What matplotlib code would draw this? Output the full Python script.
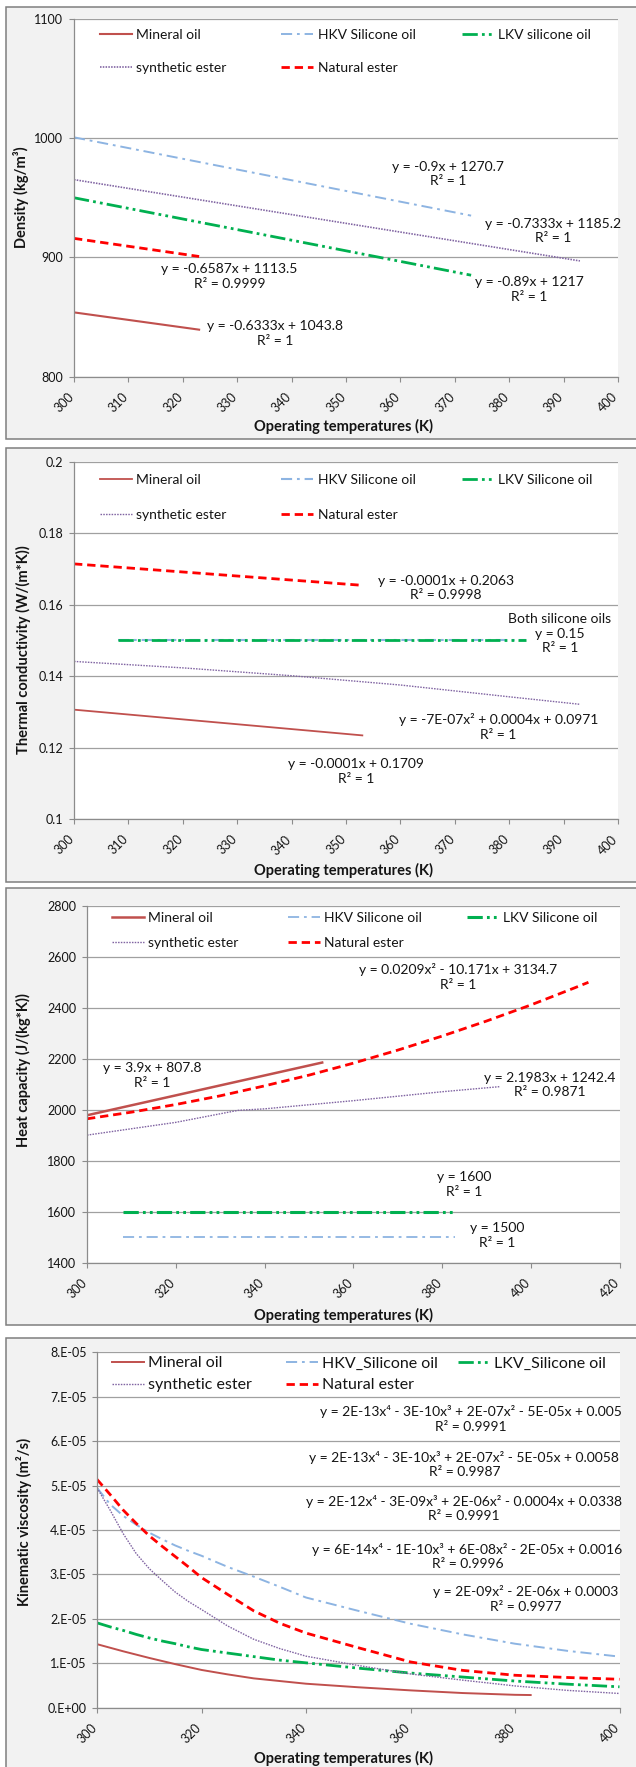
import matplotlib
matplotlib.use('Agg')
import matplotlib.pyplot as plt
from matplotlib.patches import Rectangle
from matplotlib.legend import Legend
from matplotlib.transforms import ScaledTranslation

plt.rcParams['font.family'] = ['Lato', 'DejaVu Sans']
plt.rcParams['lines.scale_dashes'] = False

W, H, DPI = 636, 1767, 100

# ---------------- data ----------------
# Panel 1: density (kg/m3)
dens_mineral_T = [300, 323]
dens_mineral = [853.8, 839.3]
dens_hkv_T = [300, 373]
dens_hkv = [1000.7, 935.0]
dens_lkv_T = [300, 373]
dens_lkv = [950.0, 885.0]
dens_syn_T = [300, 393]
dens_syn = [965.2, 897.0]
dens_nat_T = [300, 323]
dens_nat = [915.9, 900.7]

# Panel 2: thermal conductivity (W/(m*K))
tc_mineral_T = [300, 353]
tc_mineral = [0.1306, 0.1234]
tc_nat_T = [300, 353]
tc_nat = [0.1714, 0.1654]
tc_sil_T = [308, 383]
tc_hkv = [0.15, 0.15]
tc_lkv = [0.15, 0.15]
tc_syn_T = [300, 320, 340, 360, 380, 393]
tc_syn = [0.1441, 0.1423, 0.1401, 0.1375, 0.1342, 0.1321]

# Panel 3: heat capacity (J/(kg*K))
cp_mineral_T = [300, 353]
cp_mineral = [1977.8, 2184.5]
cp_nat_T = [300, 310, 320, 330, 340, 350, 360, 370, 380, 390, 400, 410, 413]
cp_nat = [1964, 1990, 2020, 2054, 2093, 2135, 2182, 2233, 2288, 2347, 2410, 2478, 2499]
cp_syn_T = [300, 310, 320, 334, 340, 360, 380, 393]
cp_syn = [1900, 1925, 1950, 1997, 2003, 2035, 2070, 2090]
cp_sil_T = [308, 383]
cp_hkv = [1500, 1500]
cp_lkv = [1600, 1600]

# Panel 4: kinematic viscosity (m2/s)
kv_mineral_T = [300, 305, 310, 315, 320, 325, 330, 335, 340, 350, 360, 370, 380, 383]
kv_mineral = [1.43e-5, 1.27e-5, 1.12e-5, 0.98e-5, 0.85e-5, 0.75e-5, 0.66e-5, 0.60e-5, 0.54e-5,
              0.46e-5, 0.39e-5, 0.33e-5, 0.29e-5, 0.285e-5]
kv_T = [300, 302.5, 305, 307.5, 310, 312.5, 315, 317.5, 320, 325, 330, 335, 340, 350, 360, 370, 380, 390, 400]
kv_hkv = [4.95e-5, 4.58e-5, 4.32e-5, 4.12e-5, 3.94e-5, 3.79e-5, 3.65e-5, 3.53e-5, 3.42e-5, 3.17e-5,
          2.95e-5, 2.72e-5, 2.48e-5, 2.18e-5, 1.89e-5, 1.65e-5, 1.44e-5, 1.28e-5, 1.15e-5]
kv_lkv = [1.91e-5, 1.82e-5, 1.74e-5, 1.65e-5, 1.57e-5, 1.50e-5, 1.44e-5, 1.37e-5, 1.31e-5, 1.23e-5,
          1.15e-5, 1.07e-5, 1.01e-5, 0.89e-5, 0.78e-5, 0.69e-5, 0.60e-5, 0.53e-5, 0.47e-5]
kv_syn = [4.95e-5, 4.45e-5, 3.92e-5, 3.47e-5, 3.13e-5, 2.86e-5, 2.60e-5, 2.39e-5, 2.21e-5, 1.84e-5,
          1.54e-5, 1.33e-5, 1.16e-5, 0.95e-5, 0.76e-5, 0.62e-5, 0.49e-5, 0.39e-5, 0.32e-5]
kv_nat = [5.14e-5, 4.80e-5, 4.45e-5, 4.15e-5, 3.87e-5, 3.63e-5, 3.40e-5, 3.17e-5, 2.93e-5, 2.55e-5,
          2.18e-5, 1.90e-5, 1.68e-5, 1.35e-5, 1.03e-5, 0.84e-5, 0.73e-5, 0.68e-5, 0.64e-5]

# labels
labels_1 = ['Mineral oil', 'HKV Silicone oil', 'LKV silicone oil', 'synthetic ester', 'Natural ester']
labels_2 = ['Mineral oil', 'HKV Silicone oil', 'LKV Silicone oil', 'synthetic ester', 'Natural ester']
labels_4 = ['Mineral oil', 'HKV_Silicone oil', 'LKV_Silicone oil', 'synthetic ester', 'Natural ester']

x_ticks_10 = [300, 310, 320, 330, 340, 350, 360, 370, 380, 390, 400]
x_ticks_20a = [300, 320, 340, 360, 380, 400, 420]
x_ticks_20b = [300, 320, 340, 360, 380, 400]
p1_yticks = [800, 900, 1000, 1100]
p2_yticks = [0.1, 0.12, 0.14, 0.16, 0.18, 0.2]
p2_ylabels = ['0.1', '0.12', '0.14', '0.16', '0.18', '0.2']
p3_yticks = [1400, 1600, 1800, 2000, 2200, 2400, 2600, 2800]
p4_yticks = [0, 1e-5, 2e-5, 3e-5, 4e-5, 5e-5, 6e-5, 7e-5, 8e-5]
p4_ylabels = ['0.E+00', '1.E-05', '2.E-05', '3.E-05', '4.E-05', '5.E-05', '6.E-05', '7.E-05', '8.E-05']

p1_notes = ['y = -0.9x + 1270.7\nR² = 1', 'y = -0.7333x + 1185.2\nR² = 1',
            'y = -0.6587x + 1113.5\nR² = 0.9999', 'y = -0.89x + 1217\nR² = 1',
            'y = -0.6333x + 1043.8\nR² = 1']
p1_note_xy = [(368.8, 970), (388, 922), (328.6, 884), (383.7, 873), (337, 836)]
p2_notes = ['y = -0.0001x + 0.2063\nR² = 0.9998', 'Both silicone oils\ny = 0.15\nR² = 1',
            'y = -7E-07x² + 0.0004x + 0.0971\nR² = 1', 'y = -0.0001x + 0.1709\nR² = 1']
p2_note_xy = [(368.3, 0.1646), (389.3, 0.1518), (378, 0.1258), (351.9, 0.1133)]
p3_notes = ['y = 0.0209x² - 10.171x + 3134.7\nR² = 1', 'y = 3.9x + 807.8\nR² = 1',
            'y = 2.1983x + 1242.4\nR² = 0.9871', 'y = 1600\nR² = 1', 'y = 1500\nR² = 1']
p3_note_xy = [(383.7, 2519), (314.7, 2134), (404.3, 2097), (385.1, 1707), (392.4, 1507)]
p4_notes = ['y = 2E-13x⁴ - 3E-10x³ + 2E-07x² - 5E-05x + 0.005\nR² = 0.9991',
            'y = 2E-13x⁴ - 3E-10x³ + 2E-07x² - 5E-05x + 0.0058\nR² = 0.9987',
            'y = 2E-12x⁴ - 3E-09x³ + 2E-06x² - 0.0004x + 0.0338\nR² = 0.9991',
            'y = 6E-14x⁴ - 1E-10x³ + 6E-08x² - 2E-05x + 0.0016\nR² = 0.9996',
            'y = 2E-09x² - 2E-06x + 0.0003\nR² = 0.9977']
p4_note_xy = [(371.5, 6.50e-5), (370.3, 5.47e-5), (370.2, 4.48e-5), (370.9, 3.40e-5), (382.1, 2.45e-5)]

# ---------------- styles ----------------
C_MIN, C_HKV, C_LKV, C_SYN, C_NAT = '#C0504D', '#8DB4E2', '#00B050', '#8064A2', '#FF0000'
LS_HKV = (0, (8, 3.5, 2, 3.5))
LS_LKV = (0, (11, 3, 2, 3, 2, 3))
LS_SYN = (0, (1.1, 0.9))
LS_NAT = (0, (6, 3.5))
TXT = '#141414'

fig = plt.figure(figsize=(W / DPI, H / DPI), dpi=DPI)
fig.patch.set_facecolor('white')


def panel_box(t, b, l=6, r=637):
    fig.add_artist(Rectangle((l / W, 1 - b / H), (r - l) / W, (b - t) / H,
                             transform=fig.transFigure, facecolor='#F2F2F2',
                             edgecolor='#7F7F7F', lw=1.1, zorder=-5))


def make_axes(box):
    l, r, t, b = box
    return fig.add_axes([l / W, 1 - b / H, (r - l) / W, (b - t) / H])


def style_axes(ax, xlim, xticks, ylim, yticks, ylabels=None):
    ax.set_xlim(*xlim)
    ax.set_ylim(*ylim)
    ax.set_facecolor('white')
    for s in ('top', 'right'):
        ax.spines[s].set_visible(False)
    for s in ('left', 'bottom'):
        ax.spines[s].set_color('#8C8C8C')
        ax.spines[s].set_linewidth(0.9)
    ax.yaxis.grid(True, color='#A0A0A0', lw=0.9)
    ax.set_axisbelow(True)
    ax.tick_params(axis='both', direction='out', color='#8C8C8C', width=0.8,
                   labelsize=9, labelcolor=TXT)
    ax.tick_params(axis='x', length=3.6, pad=6.5)
    ax.tick_params(axis='y', length=3.6, pad=4)
    ax.set_yticks(yticks)
    if ylabels is not None:
        ax.set_yticklabels(ylabels)
    ax.set_xticks(xticks, labels=[str(v) for v in xticks], rotation=45, ha='right',
                  rotation_mode='default')
    off = ScaledTranslation(2 / DPI, 0, fig.dpi_scale_trans)
    for lab in ax.xaxis.get_majorticklabels():
        lab.set_transform(lab.get_transform() + off)


def add_legend(ax, box, handles, labels, cols, rows, fs):
    l, r, t, b = box
    slots = [(0, 0), (1, 0), (2, 0), (0, 1), (1, 1)]
    fs_px = fs * DPI / 72
    for hnd, lab, (c, rw) in zip(handles, labels, slots):
        xf = (cols[c] - l) / (r - l)
        yf = 1 - (rows[rw] - t) / (b - t)
        leg = Legend(ax, [hnd], [lab], loc='center left', bbox_to_anchor=(xf, yf),
                     bbox_transform=ax.transAxes, borderaxespad=0, borderpad=0,
                     frameon=False, fontsize=fs, handlelength=32 / fs_px,
                     handletextpad=4.5 / fs_px, labelcolor=TXT)
        ax.add_artist(leg)


def notes(ax, texts, xy, fs=10, ls=1.25):
    for s, (x, y) in zip(texts, xy):
        ax.text(x, y, s, ha='center', va='center', multialignment='center',
                fontsize=fs, linespacing=ls, color=TXT)


def titles(ylab, ylab_xy, xlab_y):
    fig.text(ylab_xy[0] / W, 1 - ylab_xy[1] / H, ylab, rotation=90, ha='center', va='center',
             fontsize=10.5, fontweight='bold', color=TXT)
    fig.text(343 / W, 1 - xlab_y / H, 'Operating temperatures (K)', ha='center', va='center',
             fontsize=10.5, fontweight='bold', color=TXT)


# ---------------- Panel 1 ----------------
panel_box(7, 439)
box1 = (74, 618, 19, 376.5)
ax1 = make_axes(box1)
h = []
h += ax1.plot(dens_mineral_T, dens_mineral, color=C_MIN, ls='-', lw=1.5)
h += ax1.plot(dens_hkv_T, dens_hkv, color=C_HKV, ls=LS_HKV, lw=1.4)
h += ax1.plot(dens_lkv_T, dens_lkv, color=C_LKV, ls=LS_LKV, lw=2.0)
h += ax1.plot(dens_syn_T, dens_syn, color=C_SYN, ls=LS_SYN, lw=1.2)
h += ax1.plot(dens_nat_T, dens_nat, color=C_NAT, ls=LS_NAT, lw=2.0)
style_axes(ax1, (300, 400), x_ticks_10, (800, 1100), p1_yticks)
add_legend(ax1, box1, h, labels_1, (100, 281, 462), (35, 68), 10)
notes(ax1, p1_notes, p1_note_xy)
titles('Density (kg/m³)', (21, 197), 426)

# ---------------- Panel 2 ----------------
panel_box(448, 882)
box2 = (74, 618, 461.7, 819)
ax2 = make_axes(box2)
h = []
h += ax2.plot(tc_mineral_T, tc_mineral, color=C_MIN, ls='-', lw=1.3)
h += ax2.plot(tc_sil_T, tc_hkv, color=C_HKV, ls=LS_HKV, lw=1.5)
h += ax2.plot(tc_sil_T, tc_lkv, color=C_LKV, ls=LS_LKV, lw=2.0)
h += ax2.plot(tc_syn_T, tc_syn, color=C_SYN, ls=LS_SYN, lw=1.0)
h += ax2.plot(tc_nat_T, tc_nat, color=C_NAT, ls=LS_NAT, lw=2.0)
style_axes(ax2, (300, 400), x_ticks_10, (0.1, 0.2), p2_yticks, p2_ylabels)
add_legend(ax2, box2, h, labels_2, (99.5, 281, 462), (480, 515), 10)
notes(ax2, p2_notes, p2_note_xy)
titles('Thermal conductivity (W/(m*K))', (23, 650), 870)

# ---------------- Panel 3 ----------------
panel_box(888, 1325)
box3 = (87, 619.5, 905.5, 1262.7)
ax3 = make_axes(box3)
h = []
h += ax3.plot(cp_mineral_T, cp_mineral, color=C_MIN, ls='-', lw=1.8)
h += ax3.plot(cp_sil_T, cp_hkv, color=C_HKV, ls=LS_HKV, lw=1.3)
h += ax3.plot(cp_sil_T, cp_lkv, color=C_LKV, ls=LS_LKV, lw=2.2)
h += ax3.plot(cp_syn_T, cp_syn, color=C_SYN, ls=LS_SYN, lw=1.0)
h += ax3.plot(cp_nat_T, cp_nat, color=C_NAT, ls=LS_NAT, lw=2.0)
style_axes(ax3, (300, 420), x_ticks_20a, (1400, 2800), p3_yticks)
add_legend(ax3, box3, h, labels_2, (111.6, 288, 466.5), (918.3, 943.3), 10)
notes(ax3, p3_notes, p3_note_xy)
titles('Heat capacity (J/(kg*K))', (23, 1070), 1315)

# ---------------- Panel 4 ----------------
panel_box(1338, 1780)
box4 = (97, 619.5, 1352.3, 1707.7)
ax4 = make_axes(box4)
h = []
h += ax4.plot(kv_mineral_T, kv_mineral, color=C_MIN, ls='-', lw=1.4)
h += ax4.plot(kv_T, kv_hkv, color=C_HKV, ls=LS_HKV, lw=1.4)
h += ax4.plot(kv_T, kv_lkv, color=C_LKV, ls=LS_LKV, lw=2.0)
h += ax4.plot(kv_T, kv_syn, color=C_SYN, ls=LS_SYN, lw=1.0)
h += ax4.plot(kv_T, kv_nat, color=C_NAT, ls=LS_NAT, lw=2.0)
style_axes(ax4, (300, 400), x_ticks_20b, (0, 8e-5), p4_yticks, p4_ylabels)
add_legend(ax4, box4, h, labels_4, (111.6, 286, 458), (1363.3, 1385), 11.5)
notes(ax4, p4_notes, p4_note_xy)
titles('Kinematic viscosity (m²/s)', (24, 1522), 1758)

fig.savefig('out.png', dpi=DPI)
